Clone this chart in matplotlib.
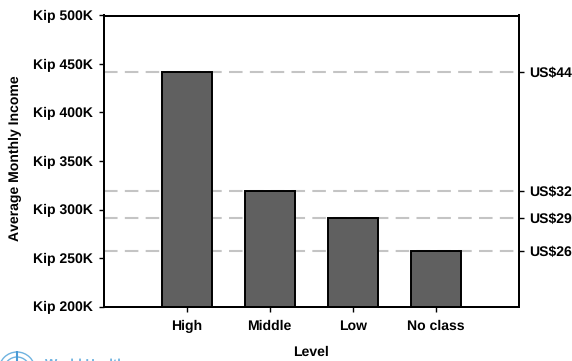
# -*- coding: utf-8 -*-
# Average monthly income by class level, with US$ equivalents on the right axis
import matplotlib
matplotlib.use("Agg")
import matplotlib.pyplot as plt
from matplotlib.patches import Circle

plt.rcParams['font.family'] = ['Liberation Sans', 'DejaVu Sans']
plt.rcParams['font.weight'] = 'bold'
plt.rcParams['text.hinting'] = 'no_hinting'
plt.rcParams['text.hinting_factor'] = 1

# data
levels = ["High", "Middle", "Low", "No class"]
income_kip = [441.8, 319, 291, 257]
usd_labels = ["US$44", "US$32", "US$29", "US$26"]
y_ticks = [200, 250, 300, 350, 400, 450, 500]
y_tick_labels = ["Kip 200K", "Kip 250K", "Kip 300K", "Kip 350K", "Kip 400K", "Kip 450K", "Kip 500K"]

W, H = 572, 361
FS = 9.9
fig = plt.figure(figsize=(W / 100, H / 100), dpi=100)
ax = fig.add_axes([103.5 / W, 1 - 306.5 / H, 415.5 / W, 291 / H])

positions = list(range(1, len(levels) + 1))

# dashed reference lines sit behind the bars
for v in income_kip:
    ax.axhline(v, color="#c4c4c4", lw=1.5, ls=(0, (6.5, 3.5)), zorder=1)

ax.bar(positions, income_kip, width=0.6, color="#606060", edgecolor="black", lw=1.4, zorder=2)

ax.set_xlim(0, 5)
ax.set_ylim(200, 500)
ax.set_xticks(positions)
ax.set_xticklabels(levels, fontsize=FS, fontweight='bold')
ax.set_yticks(y_ticks)
ax.set_yticklabels(y_tick_labels, fontsize=FS, fontweight='bold')
ax.tick_params(axis='x', length=3.5, width=1, pad=6)
ax.tick_params(axis='y', length=3.5, width=1, pad=4)
for s in ax.spines.values():
    s.set_linewidth(1.4)

# right axis with the dollar values
ax2 = ax.twinx()
ax2.set_ylim(200, 500)
ax2.set_yticks(income_kip)
ax2.set_yticklabels(usd_labels, fontsize=FS, fontweight='bold')
ax2.tick_params(axis='y', length=3.5, width=1, pad=4)
for s in ax2.spines.values():
    s.set_linewidth(1.4)

fig.text(311 / W, 1 - 352 / H, "Level", fontsize=FS, fontweight='bold', ha='center', va='center')
fig.text(15 / W, 1 - 158 / H, "Average Monthly Income", rotation=90, fontsize=FS,
         fontweight='bold', ha='center', va='center')

# WHO logo cropped at the bottom edge
fig.text(45 / W, 1 - 358 / H, "World Health", color="#6fb3e0", fontsize=9,
         fontweight='bold', ha='left', va='top')
logo_ax = fig.add_axes([0, 0, 44 / W, 10 / H])
logo_ax.set_xlim(0, 44)
logo_ax.set_ylim(0, 10)
logo_ax.axis("off")
for r in (18, 13, 8):
    logo_ax.add_patch(Circle((17, -9), r, facecolor="none", edgecolor="#6fb3e0", lw=1))
logo_ax.vlines(17, 0, 10, color="#4a9bd6", lw=1.5)

fig.savefig("out.png", dpi=100)
